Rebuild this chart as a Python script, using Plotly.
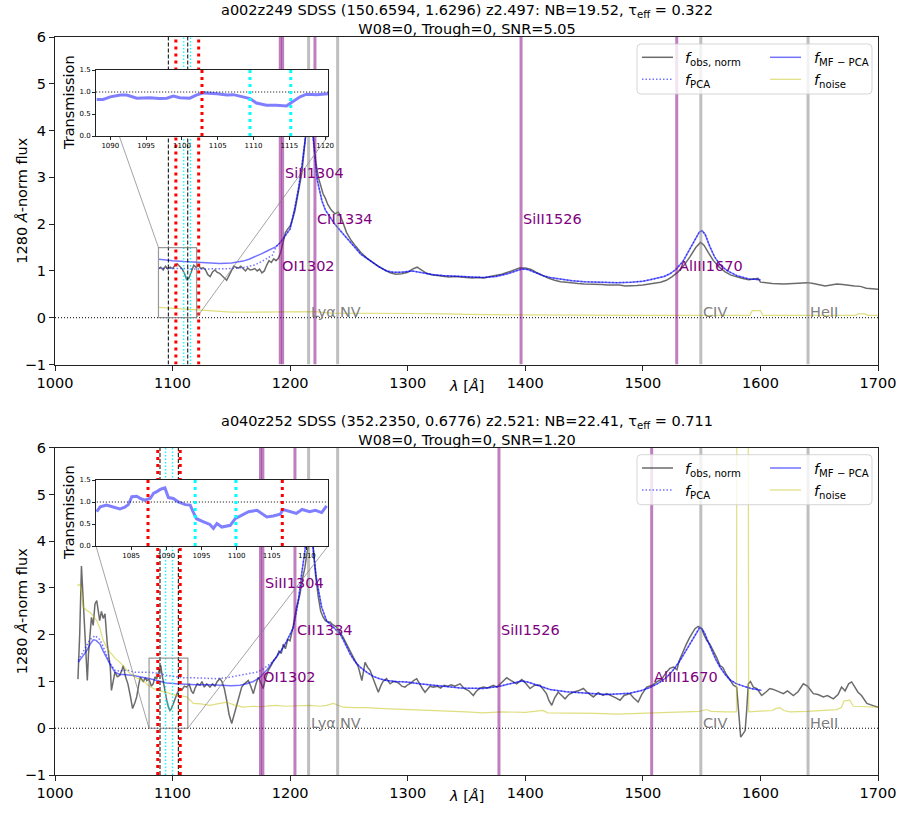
import plotly.graph_objects as go

# ------------------------------------------------------------------
# Quasar a002z249  (top panel)
# ------------------------------------------------------------------
a002_obs_wave = [1088.5, 1090, 1092, 1094, 1096, 1098, 1100, 1102, 1104, 1106, 1108, 1110, 1112, 1114, 1116,
                 1118, 1120, 1122, 1124, 1126, 1128, 1130, 1132, 1134, 1136, 1138, 1140, 1142, 1144, 1146,
                 1148, 1150, 1152, 1154, 1156, 1158, 1160, 1162, 1164, 1166, 1168, 1170, 1172, 1174, 1176,
                 1178, 1180, 1182, 1184, 1186, 1188, 1190, 1192, 1194, 1196, 1198, 1200, 1202, 1204, 1206,
                 1208, 1210, 1212, 1214, 1216, 1218, 1220, 1222, 1224, 1226, 1228, 1230, 1232, 1235, 1238,
                 1241, 1244, 1248, 1252, 1256, 1260, 1265, 1270, 1275, 1280, 1285, 1290, 1295, 1300, 1304,
                 1308, 1312, 1316, 1320, 1325, 1330, 1335, 1340, 1345, 1350, 1355, 1360, 1365, 1370, 1375,
                 1380, 1385, 1390, 1395, 1400, 1405, 1410, 1415, 1420, 1425, 1430, 1435, 1440, 1445, 1450,
                 1455, 1460, 1465, 1470, 1475, 1480, 1485, 1490, 1495, 1500, 1505, 1510, 1515, 1520, 1525,
                 1530, 1535, 1540, 1545, 1549, 1552, 1556, 1560, 1565, 1570, 1575, 1580, 1585, 1590, 1595,
                 1598, 1600, 1605, 1610, 1620, 1630, 1640, 1645, 1650, 1655, 1660, 1665, 1670, 1675, 1680,
                 1685, 1690, 1695, 1700]
a002_obs_flux = [1.05, 1.08, 1.02, 1.10, 1.04, 1.08, 1.05, 1.12, 1.15, 1.10, 1.05, 0.95, 0.82, 0.85, 1.00,
                 1.12, 1.08, 1.12, 1.05, 1.07, 1.02, 0.92, 0.88, 0.98, 1.02, 0.97, 0.95, 0.90, 0.86, 0.80,
                 0.90, 1.02, 1.10, 1.08, 1.06, 1.10, 1.04, 1.00, 1.06, 1.02, 1.03, 1.05, 1.00, 1.04, 0.96,
                 1.00, 1.12, 1.22, 1.18, 1.26, 1.22, 1.27, 1.40, 1.62, 1.82, 1.90, 1.96, 2.10, 2.28, 2.55,
                 2.80, 3.10, 3.60, 4.10, 4.55, 4.30, 3.80, 3.30, 3.00, 2.80, 2.65, 2.55, 2.42, 2.30, 2.22,
                 2.26, 2.10, 1.82, 1.65, 1.52, 1.40, 1.28, 1.18, 1.10, 1.03, 0.96, 0.93, 0.94, 0.97, 1.04,
                 1.08, 1.02, 0.95, 0.92, 0.90, 0.88, 0.87, 0.88, 0.87, 0.86, 0.85, 0.86, 0.85, 0.88, 0.90,
                 0.93, 0.97, 1.02, 1.06, 1.06, 1.03, 0.96, 0.90, 0.84, 0.80, 0.77, 0.76, 0.74, 0.73, 0.72,
                 0.72, 0.71, 0.71, 0.70, 0.70, 0.70, 0.68, 0.68, 0.69, 0.70, 0.72, 0.74, 0.76, 0.80, 0.88,
                 0.98, 1.12, 1.30, 1.50, 1.61, 1.55, 1.38, 1.22, 1.08, 0.98, 0.91, 0.87, 0.84, 0.81, 0.83,
                 0.84, 0.76, 0.74, 0.73, 0.72, 0.73, 0.75, 0.73, 0.70, 0.68, 0.70, 0.72, 0.71, 0.69, 0.68,
                 0.67, 0.63, 0.62, 0.61]

a002_pca_forest_wave = [1088.5, 1100, 1110, 1120, 1130, 1140, 1150, 1160, 1170, 1175, 1180, 1185]
a002_pca_forest_flux = [1.06, 1.06, 1.05, 1.04, 1.04, 1.04, 1.05, 1.07, 1.13, 1.19, 1.26, 1.34]
a002_mf_forest_wave = [1088.5, 1095, 1100, 1110, 1120, 1130, 1140, 1150, 1160, 1165, 1170, 1175, 1180, 1185]
a002_mf_forest_flux = [1.25, 1.23, 1.22, 1.20, 1.19, 1.17, 1.16, 1.17, 1.21, 1.25, 1.30, 1.36, 1.42, 1.49]
a002_fit_wave = [1188, 1191, 1195, 1200, 1204, 1207, 1210, 1213, 1215.5, 1217, 1219, 1221, 1223, 1227, 1230,
                 1234, 1238, 1242, 1248, 1254, 1260, 1268, 1276, 1282, 1288, 1294, 1299, 1304, 1310, 1316,
                 1322, 1330, 1340, 1350, 1364, 1375, 1385, 1392, 1397, 1402, 1408, 1415, 1421, 1430, 1440,
                 1450, 1465, 1478, 1490, 1500, 1506, 1512, 1518, 1523, 1528, 1534, 1539, 1544, 1548, 1550.5,
                 1553, 1557, 1561, 1566, 1572, 1580, 1590, 1600]
a002_fit_flux = [1.52, 1.59, 1.72, 1.90, 2.35, 2.75, 3.25, 3.80, 4.35, 4.30, 4.00, 3.45, 2.95, 2.50, 2.30,
                 2.15, 2.00, 1.88, 1.70, 1.52, 1.36, 1.22, 1.08, 1.00, 0.97, 0.97, 0.99, 1.00, 0.97, 0.94,
                 0.92, 0.90, 0.89, 0.87, 0.86, 0.88, 0.94, 1.00, 1.04, 1.03, 0.97, 0.90, 0.86, 0.82, 0.79,
                 0.77, 0.76, 0.75, 0.76, 0.78, 0.81, 0.84, 0.88, 0.94, 1.03, 1.20, 1.42, 1.66, 1.83, 1.86,
                 1.78, 1.52, 1.30, 1.12, 1.00, 0.90, 0.83, 0.81]

a002_noise_wave = [1088.5, 1100, 1110, 1123, 1135, 1150, 1170, 1190, 1208, 1220, 1236, 1260, 1300, 1333, 1350,
                   1400, 1450, 1500, 1550, 1591, 1593, 1600, 1602, 1650, 1681, 1683, 1689, 1691, 1700]
a002_noise_flux = [0.22, 0.20, 0.18, 0.17, 0.14, 0.12, 0.12, 0.12, 0.13, 0.13, 0.10, 0.10, 0.09, 0.08, 0.07,
                   0.06, 0.05, 0.05, 0.05, 0.05, 0.15, 0.15, 0.05, 0.05, 0.05, 0.08, 0.08, 0.05, 0.05]

a002_trans_wave = [1088.1, 1089.0, 1090.0, 1091.4, 1092.3, 1093.7, 1095.5, 1096.9, 1097.9, 1098.8, 1099.7,
                   1101.1, 1102.0, 1103.0, 1104.9, 1106.3, 1107.2, 1108.6, 1109.5, 1110.4, 1111.8, 1113.2,
                   1114.6, 1115.1, 1116.5, 1117.4, 1118.8, 1120.4]
a002_trans_vals = [0.83, 0.83, 0.89, 0.93, 0.93, 0.86, 0.87, 0.85, 0.86, 0.91, 0.87,
                   0.86, 0.93, 0.98, 0.96, 0.93, 0.94, 0.89, 0.85, 0.75, 0.70, 0.70,
                   0.68, 0.74, 0.89, 0.95, 0.94, 0.96]

a002_red = [1102.8, 1122.2]
a002_cyan = [1109.5, 1115.2]
a002_black = [1096.4, 1112.9]
a002_metal_lines = [1191.6, 1193.6, 1221.1, 1396.4, 1528.8]
a002_metal_labels = [("OI1302", 1191.6, 1.1), ("SiII1304", 1193.6, 3.1), ("CII1334", 1221.1, 2.1),
                     ("SiII1526", 1396.4, 2.1), ("AlIII1670", 1528.8, 1.1)]
a002_inset_range = [1088.0, 1120.4]
a002_inset_ticks = [1090, 1095, 1100, 1105, 1110, 1115, 1120]
a002_title = ("a002z249 SDSS (150.6594, 1.6296) z2.497: NB=19.52, τ<sub>eff</sub> = 0.322"
              "<br>W08=0, Trough=0, SNR=5.05")

# ------------------------------------------------------------------
# Quasar a040z252  (bottom panel)
# ------------------------------------------------------------------
a040_obs_wave = [1019.5, 1021, 1022.5, 1023.5, 1024.5, 1025.5, 1026.5, 1027.5, 1028.5, 1030, 1031, 1032.5,
                 1034, 1035.5, 1037, 1038, 1039.5, 1041, 1042.5, 1043.5, 1044.5, 1046, 1047, 1048, 1049.5,
                 1051, 1053, 1055, 1057, 1058, 1060, 1062, 1064, 1066, 1068, 1069.5, 1071, 1072.5, 1075,
                 1077, 1078, 1080, 1082, 1083.5, 1085, 1086.5, 1088, 1090, 1091, 1092, 1093.5, 1095, 1096.5,
                 1097.8, 1099, 1100.6, 1102, 1104, 1106.3, 1108, 1110, 1112, 1114, 1116, 1117.6, 1119, 1121,
                 1123.3, 1125, 1127, 1129, 1131.8, 1134, 1136, 1138, 1140.3, 1142, 1144, 1146, 1148, 1150.3,
                 1152, 1154.5, 1156.5, 1158.8, 1161, 1164.4, 1166.5, 1168.7, 1171, 1173, 1175, 1177, 1179,
                 1181.4, 1184, 1186, 1188.5, 1190.5, 1192.5, 1194.2, 1196, 1198, 1199.9, 1201.5, 1202.7,
                 1205, 1208.4, 1210.5, 1212.6, 1214, 1215.5, 1216.5, 1218, 1219.7, 1221.5, 1224, 1226,
                 1228.2, 1230, 1232, 1234, 1236, 1239.6, 1242.4, 1245, 1248, 1251, 1254, 1256, 1258, 1261,
                 1263.7, 1266, 1268, 1270, 1272, 1275, 1277, 1279, 1282, 1285, 1288, 1290.6, 1293, 1295,
                 1297.7, 1300, 1303, 1305, 1307.6, 1310, 1312.5, 1314.7, 1317, 1319, 1321.8, 1325, 1328,
                 1331, 1334, 1337, 1340, 1344.5, 1348, 1352, 1355.8, 1358, 1361, 1364.3, 1368, 1372.8, 1376,
                 1380, 1384.2, 1388, 1392.7, 1397, 1400, 1404, 1408, 1412.5, 1415, 1418, 1420, 1422.5, 1425,
                 1428, 1431, 1433.8, 1437, 1440.8, 1445, 1449.4, 1453, 1457.9, 1462, 1466, 1469.3, 1473,
                 1477, 1480.6, 1484, 1489, 1492, 1496, 1499, 1503.2, 1508, 1511.8, 1516, 1520, 1523, 1525.9,
                 1529, 1531, 1534.4, 1537, 1540, 1542, 1544.3, 1547, 1550, 1552, 1554.3, 1557, 1560, 1563,
                 1565.6, 1568, 1571, 1574, 1577, 1579.8, 1581.5, 1583.2, 1585.5, 1587, 1588.3, 1589.7,
                 1591.5, 1594, 1597, 1601, 1605, 1608, 1611, 1615, 1619.5, 1623, 1628, 1632, 1636.5, 1640,
                 1645, 1649, 1653.5, 1657, 1662, 1666, 1669, 1672, 1675, 1677.6, 1680, 1683, 1686, 1690.5,
                 1694, 1697, 1700]
a040_obs_flux = [1.05, 2.00, 3.47, 3.00, 2.40, 2.02, 1.50, 1.02, 1.60, 2.10, 2.37, 2.20,
                 2.66, 2.73, 2.40, 2.30, 2.50, 2.35, 2.45, 2.10, 1.80, 1.50, 1.31, 0.81, 1.05,
                 1.20, 1.10, 1.13, 1.25, 1.34, 1.10, 0.95, 0.70, 0.42, 0.55, 0.67, 0.90, 1.09, 1.00,
                 1.08, 1.02, 1.05, 0.90, 0.95, 1.10, 1.05, 1.20, 1.34, 1.15, 0.99, 0.85, 0.60, 0.45,
                 0.38, 0.42, 0.53, 0.62, 0.75, 0.85, 0.82, 0.90, 0.88, 0.95, 0.80, 0.74, 0.85, 0.95,
                 0.92, 1.00, 0.88, 0.95, 0.88, 0.95, 0.90, 1.00, 1.06, 1.00, 0.85, 0.60, 0.30, 0.10,
                 0.25, 0.45, 0.65, 0.88, 0.95, 1.02, 0.90, 0.74, 0.95, 1.09, 0.98, 0.85, 1.05,
                 1.24, 1.35, 1.45, 1.52, 1.65, 1.60, 1.80, 1.70, 1.90, 1.87, 2.05, 2.20,
                 2.55, 2.87, 3.20, 3.44, 3.70, 3.90, 4.20, 4.30, 3.87, 3.30, 2.80, 2.50,
                 2.37, 2.30, 2.27, 2.27, 2.22, 2.16, 2.05, 1.95, 1.80, 1.66, 1.50, 1.40, 1.31, 1.02,
                 1.41, 1.30, 1.24, 1.10, 0.95, 0.77, 0.90, 1.00, 1.06, 0.95, 1.00, 0.99, 0.95, 0.90,
                 0.88, 0.93, 0.97, 1.02, 1.06, 0.95, 0.85, 0.77, 0.85, 0.90, 0.88, 0.90, 0.86,
                 0.92, 0.90, 0.93, 0.90, 0.95, 0.85, 0.80, 0.70, 0.78, 0.85, 0.88, 0.86, 0.92, 0.88,
                 0.98, 1.08, 1.02, 0.95, 1.04, 0.97, 0.85, 0.92, 0.92, 0.84, 0.74, 0.60, 0.49, 0.65,
                 0.77, 0.70, 0.63, 0.72, 0.77, 0.80, 0.85, 0.76, 0.67, 0.76, 0.70, 0.74, 0.70,
                 0.65, 0.60, 0.70, 0.74, 0.65, 0.56, 0.72, 0.88, 0.92, 0.99, 1.05, 1.20, 1.28, 1.31,
                 1.25, 1.45, 1.66, 1.80, 1.95, 2.05, 2.13, 2.18, 2.13, 2.00, 1.88, 1.80, 1.66, 1.50,
                 1.34, 1.30, 1.15, 1.02, 0.92, 0.88, 0.24, -0.19, -0.11, -0.05, 0.38, 0.95,
                 1.00, 0.88, 0.85, 0.70, 0.78, 0.85, 0.83, 0.78, 0.74, 0.80, 0.70, 0.78, 0.95, 0.90,
                 0.74, 0.72, 0.67, 0.70, 0.63, 0.72, 0.88, 0.80, 0.95, 0.99, 0.90, 0.77, 0.70, 0.53,
                 0.50, 0.47, 0.45]

a040_pca_forest_wave = [1019.8, 1024, 1027, 1030, 1034, 1038, 1041, 1044, 1047, 1051, 1055, 1058, 1062,
                        1066.6, 1072, 1080.8, 1089, 1095, 1103, 1109, 1117.6, 1130, 1137.5, 1146, 1157,
                        1163, 1171.5, 1176, 1180, 1185.7]
a040_pca_forest_flux = [1.45, 1.62, 1.77, 1.90, 1.98, 1.90, 1.75, 1.55, 1.38, 1.24, 1.22, 1.24, 1.24,
                        1.20, 1.20, 1.20, 1.17, 1.13, 1.10, 1.08, 1.08, 1.06, 1.06, 1.08, 1.13,
                        1.17, 1.20, 1.25, 1.32, 1.43]
a040_mf_forest_wave = [1019.8, 1024, 1027, 1030, 1032.6, 1035, 1038.3, 1041, 1044, 1047, 1051, 1055, 1058,
                       1062, 1066.6, 1072, 1077, 1080.8, 1085, 1089.3, 1095, 1103.5, 1109, 1120, 1131.8,
                       1140, 1150, 1157.4, 1163, 1168.7, 1174, 1180, 1185.7]
a040_mf_forest_flux = [1.41, 1.55, 1.66, 1.80, 1.89, 1.88, 1.80, 1.65, 1.49, 1.36, 1.20, 1.15, 1.15,
                       1.14, 1.13, 1.10, 1.08, 1.06, 1.03, 1.00, 0.97, 0.95, 0.94, 0.93, 0.93,
                       0.92, 0.91, 0.92, 0.95, 1.00, 1.08, 1.24, 1.43]
a040_fit_wave = [1188, 1191, 1194.2, 1197, 1200, 1202.7, 1205, 1207, 1209.8, 1212.6, 1214.5, 1216, 1217.5,
                 1219.7, 1222.6, 1226.8, 1231, 1235, 1239.6, 1242.4, 1246, 1251, 1255, 1259.4, 1265, 1270.7,
                 1276, 1282, 1290, 1299, 1310, 1321.8, 1333, 1345, 1364, 1372, 1378.5, 1385, 1391, 1397,
                 1402, 1407, 1414, 1421, 1435, 1449.4, 1469, 1489, 1498, 1506, 1513, 1520.3, 1526, 1531.7,
                 1536, 1540, 1544, 1548.5, 1550.5, 1552.8, 1555.5, 1558.5, 1562, 1565.6, 1570, 1574, 1579,
                 1585.5, 1592, 1601]
a040_fit_flux = [1.52, 1.62, 1.73, 1.86, 2.02, 2.15, 2.45, 2.73, 3.30, 3.80, 4.30, 4.60, 4.50,
                 3.80, 3.16, 2.59, 2.30, 2.20, 2.09, 2.02, 1.85, 1.59, 1.43, 1.31, 1.20, 1.11,
                 1.06, 1.02, 1.00, 0.99, 0.95, 0.92, 0.88, 0.86, 0.85, 0.87, 0.90, 0.94, 0.98, 1.01,
                 0.99, 0.95, 0.88, 0.83, 0.78, 0.75, 0.72, 0.75, 0.80, 0.87, 0.96, 1.09, 1.25, 1.45,
                 1.63, 1.80, 1.98, 2.16, 2.12, 2.02, 1.85, 1.66, 1.47, 1.31, 1.15, 1.04, 0.96,
                 0.90, 0.85, 0.81]

a040_noise_wave = [1019, 1021.3, 1022.5, 1024, 1027, 1029.8, 1032.5, 1035.5, 1038, 1041, 1044, 1048, 1051,
                   1055.3, 1059, 1063.8, 1069, 1075, 1079, 1083.6, 1089, 1095, 1100, 1106, 1112, 1115,
                   1117.6, 1124, 1131.8, 1138, 1146, 1152, 1160, 1168, 1175, 1182, 1188.5, 1196, 1203,
                   1210, 1216.9, 1225, 1231, 1236.7, 1240, 1245.2, 1255, 1265, 1280, 1300, 1320, 1333,
                   1350, 1364, 1380, 1400, 1412, 1415, 1419, 1440, 1460, 1478, 1500, 1520, 1534, 1548,
                   1554, 1558, 1570, 1579.6, 1580.4, 1589.2, 1590, 1600, 1610, 1613, 1616.6, 1620, 1625,
                   1640, 1655, 1665, 1669, 1671, 1676, 1679, 1690, 1700]
a040_noise_flux = [3.05, 3.08, 2.90, 2.59, 2.52, 2.48, 2.40, 2.30, 2.15, 1.88, 1.72, 1.59, 1.50,
                   1.41, 1.30, 1.17, 1.08, 1.02, 0.92, 0.85, 0.80, 0.77, 0.72, 0.70, 0.67, 0.60,
                   0.53, 0.52, 0.49, 0.52, 0.56, 0.50, 0.45, 0.47, 0.46, 0.48, 0.49, 0.47, 0.48,
                   0.49, 0.49, 0.47, 0.49, 0.53, 0.50, 0.45, 0.44, 0.44, 0.42, 0.40, 0.39, 0.38,
                   0.35, 0.33, 0.35, 0.34, 0.36, 0.38, 0.33, 0.33, 0.32, 0.30, 0.32, 0.34, 0.35, 0.36,
                   0.40, 0.36, 0.35, 0.35, 15.0, 15.0, 0.35, 0.36, 0.38, 0.42, 0.44, 0.38, 0.35,
                   0.36, 0.38, 0.40, 0.45, 0.58, 0.60, 0.47, 0.46, 0.45]

a040_trans_wave = [1080.1, 1080.6, 1081.5, 1082.5, 1083.4, 1084.1, 1084.6, 1085.1, 1085.8, 1086.3, 1086.9,
                   1087.7, 1088.2, 1088.6, 1089.2, 1089.8, 1090.3, 1091.0, 1091.7, 1092.7, 1093.4, 1093.8,
                   1094.3, 1095.3, 1096.2, 1096.7, 1097.2, 1097.9, 1099.1, 1099.8, 1100.5, 1101.7, 1102.9,
                   1103.6, 1104.3, 1105.2, 1106.2, 1106.6, 1107.6, 1108.5, 1109.3, 1110.4, 1111.2, 1112.1,
                   1112.8]
a040_trans_vals = [0.78, 0.89, 0.93, 0.89, 0.84, 0.88, 0.94, 1.12, 1.13, 1.08, 1.04,
                   1.08, 1.20, 1.23, 1.29, 1.32, 1.10, 1.08, 1.00, 0.94, 0.93, 0.78,
                   0.62, 0.55, 0.49, 0.40, 0.51, 0.43, 0.47, 0.62, 0.68, 0.78, 0.81,
                   0.74, 0.66, 0.68, 0.72, 0.83, 0.78, 0.74, 0.83, 0.78, 0.81, 0.76,
                   0.91]

a040_red = [1087.4, 1106.5]
a040_cyan = [1094.1, 1099.9]
a040_black = [1089.3, 1104.9]
a040_metal_lines = [1174.8, 1176.8, 1204.1, 1377.6, 1507.5]
a040_metal_labels = [("OI1302", 1175.6, 1.1), ("SiII1304", 1176.8, 3.1), ("CII1334", 1204.1, 2.1),
                     ("SiII1526", 1377.6, 2.1), ("AlIII1670", 1507.5, 1.1)]
a040_inset_range = [1080.0, 1113.0]
a040_inset_ticks = [1085, 1090, 1095, 1100, 1105, 1110]
a040_title = ("a040z252 SDSS (352.2350, 0.6776) z2.521: NB=22.41, τ<sub>eff</sub> = 0.711"
              "<br>W08=0, Trough=0, SNR=1.20")

# emission lines common to both panels
emission_waves = [1215.7, 1240.4, 1549.3, 1640.5]
emission_labels = [("Lyα", 1215.7), ("NV", 1240.4), ("CIV", 1549.3), ("HeII", 1640.5)]

# ------------------------------------------------------------------
# page geometry (pixels)
# ------------------------------------------------------------------
W, H = 901, 820
FONT = "DejaVu Sans"
MAIN_X = (55, 878)
XR = (1000, 1700)
YR = (-1, 6)
INSET_X = (96, 328)


def px(x):
    return x / W


def py(y):
    return 1 - y / H


panels = [
    dict(obs_w=a002_obs_wave, obs_f=a002_obs_flux,
         pca_w=a002_pca_forest_wave + a002_fit_wave, pca_f=a002_pca_forest_flux + a002_fit_flux,
         mf_w=a002_mf_forest_wave + a002_fit_wave, mf_f=a002_mf_forest_flux + a002_fit_flux,
         noise_w=a002_noise_wave, noise_f=a002_noise_flux,
         tr_w=a002_trans_wave, tr_v=a002_trans_vals,
         red=a002_red, cyan=a002_cyan, black=a002_black,
         metals=a002_metal_lines, metal_labels=a002_metal_labels,
         inset_range=a002_inset_range, inset_ticks=a002_inset_ticks, title=a002_title,
         ypix=(37, 364.5), inset_ypix=(70, 136), legend_dy=0,
         connectors=[("left", 1.5, INSET_X[0], "top"), ("right", 0.0, INSET_X[1], "bottom")]),
    dict(obs_w=a040_obs_wave, obs_f=a040_obs_flux,
         pca_w=a040_pca_forest_wave + a040_fit_wave, pca_f=a040_pca_forest_flux + a040_fit_flux,
         mf_w=a040_mf_forest_wave + a040_fit_wave, mf_f=a040_mf_forest_flux + a040_fit_flux,
         noise_w=a040_noise_wave, noise_f=a040_noise_flux,
         tr_w=a040_trans_wave, tr_v=a040_trans_vals,
         red=a040_red, cyan=a040_cyan, black=a040_black,
         metals=a040_metal_lines, metal_labels=a040_metal_labels,
         inset_range=a040_inset_range, inset_ticks=a040_inset_ticks, title=a040_title,
         ypix=(447.7, 775), inset_ypix=(480, 546), legend_dy=410.7,
         connectors=[("left", 0.0, INSET_X[0], "bottom"), ("right", 0.0, INSET_X[1], "bottom")]),
]

GREY_OBS = "rgba(0,0,0,0.58)"
BLUE_MF = "rgba(0,0,255,0.55)"
BLUE_PCA = "rgba(0,0,255,0.55)"
NOISE = "rgba(191,191,0,0.5)"
PURPLE = "rgba(128,0,128,0.5)"
GREY_LINE = "rgba(128,128,128,0.5)"


def vlines(xs, y0, y1):
    xx, yy = [], []
    for x in xs:
        xx += [x, x, None]
        yy += [y0, y1, None]
    return xx, yy


fig = go.Figure()
annotations = []
shapes = []

for i, p in enumerate(panels):
    main_x = "x" if i == 0 else "x2"
    main_y = "y" if i == 0 else "y2"
    ins_x = "x3" if i == 0 else "x4"
    ins_y = "y3" if i == 0 else "y4"

    def L(**kw):
        kw.setdefault("mode", "lines")
        kw.setdefault("showlegend", False)
        kw.setdefault("hoverinfo", "skip")
        fig.add_trace(go.Scatter(**kw))

    # spectra
    L(x=p["obs_w"], y=p["obs_f"], xaxis=main_x, yaxis=main_y, line=dict(color=GREY_OBS, width=1.5))
    # stretch of the spectrum inside the cyan window
    cw = [w for w in p["obs_w"] if p["cyan"][0] <= w <= p["cyan"][1]]
    cf = [f for w, f in zip(p["obs_w"], p["obs_f"]) if p["cyan"][0] <= w <= p["cyan"][1]]
    L(x=cw, y=cf, xaxis=main_x, yaxis=main_y, line=dict(color="rgba(0,220,220,0.45)", width=1.5))
    L(x=p["pca_w"], y=p["pca_f"], xaxis=main_x, yaxis=main_y,
      line=dict(color=BLUE_PCA, width=1.5, dash="1.5px,2px"))
    L(x=p["mf_w"], y=p["mf_f"], xaxis=main_x, yaxis=main_y, line=dict(color=BLUE_MF, width=1.5))
    L(x=p["noise_w"], y=p["noise_f"], xaxis=main_x, yaxis=main_y, line=dict(color=NOISE, width=1.2))

    # zero level
    L(x=list(XR), y=[0, 0], xaxis=main_x, yaxis=main_y, line=dict(color="black", width=1, dash="1px,2px"))

    # line markers
    vx, vy = vlines(p["metals"], YR[0], YR[1])
    L(x=vx, y=vy, xaxis=main_x, yaxis=main_y, line=dict(color=PURPLE, width=3))
    vx, vy = vlines(emission_waves, YR[0], YR[1])
    L(x=vx, y=vy, xaxis=main_x, yaxis=main_y, line=dict(color=GREY_LINE, width=3))
    vx, vy = vlines(p["black"], YR[0], YR[1])
    L(x=vx, y=vy, xaxis=main_x, yaxis=main_y, line=dict(color="black", width=1, dash="4px,2px"))
    vx, vy = vlines(p["red"], YR[0], YR[1])
    L(x=vx, y=vy, xaxis=main_x, yaxis=main_y, line=dict(color="red", width=3, dash="3px,4px"))
    vx, vy = vlines(p["cyan"], YR[0], YR[1])
    L(x=vx, y=vy, xaxis=main_x, yaxis=main_y, line=dict(color="cyan", width=1.3, dash="1.5px,2px"))

    # zoom box and connector lines
    r0, r1 = p["inset_range"]
    L(x=[r0, r1, r1, r0, r0], y=[0, 0, 1.5, 1.5, 0], xaxis=main_x, yaxis=main_y,
      line=dict(color="rgba(128,128,128,0.8)", width=1.2))
    ytop_px, ybot_px = p["ypix"]
    iy0, iy1 = p["inset_ypix"]

    def to_data(xp, yp):
        lam = XR[0] + (xp - MAIN_X[0]) / (MAIN_X[1] - MAIN_X[0]) * (XR[1] - XR[0])
        val = YR[0] + (ybot_px - yp) / (ybot_px - ytop_px) * (YR[1] - YR[0])
        return lam, val

    for side, yval, ixp, iyside in p["connectors"]:
        rx = r0 if side == "left" else r1
        ix, iy = to_data(ixp, iy0 if iyside == "top" else iy1)
        L(x=[rx, ix], y=[yval, iy], xaxis=main_x, yaxis=main_y,
          line=dict(color="rgba(128,128,128,0.8)", width=0.9))

    # inset: transmission
    L(x=p["tr_w"], y=p["tr_v"], xaxis=ins_x, yaxis=ins_y, line=dict(color="rgba(0,0,255,0.5)", width=3))
    L(x=[r0 - 5, r1 + 5], y=[1, 1], xaxis=ins_x, yaxis=ins_y, line=dict(color="black", width=1, dash="1px,2px"))
    vx, vy = vlines(p["red"], 0, 1.5)
    L(x=vx, y=vy, xaxis=ins_x, yaxis=ins_y, line=dict(color="red", width=3, dash="3px,4px"))
    vx, vy = vlines(p["cyan"], 0, 1.5)
    L(x=vx, y=vy, xaxis=ins_x, yaxis=ins_y, line=dict(color="cyan", width=3, dash="3px,4px"))

    # axes
    main_dom_y = [py(ybot_px), py(ytop_px)]
    ax_common = dict(showline=True, mirror=True, linecolor="#222", linewidth=1, ticks="outside",
                     ticklen=5, tickwidth=1, tickcolor="#222", showgrid=False, zeroline=False,
                     automargin=False, tickfont=dict(family=FONT, size=14.5, color="black"))
    xk = "xaxis" if i == 0 else "xaxis2"
    yk = "yaxis" if i == 0 else "yaxis2"
    fig.layout[xk] = dict(domain=[px(MAIN_X[0]), px(MAIN_X[1])], range=list(XR), anchor=main_y,
                          tickvals=[1000, 1100, 1200, 1300, 1400, 1500, 1600, 1700], **ax_common)
    fig.layout[yk] = dict(domain=main_dom_y, range=list(YR), anchor=main_x,
                          tickvals=[-1, 0, 1, 2, 3, 4, 5, 6], **ax_common)
    ins_common = dict(showline=True, mirror=True, linecolor="#222", linewidth=1, ticks="outside",
                      ticklen=3, tickwidth=0.8, tickcolor="#222", showgrid=False, zeroline=False,
                      automargin=False, tickfont=dict(family=FONT, size=7, color="black"))
    xik = "xaxis3" if i == 0 else "xaxis4"
    yik = "yaxis3" if i == 0 else "yaxis4"
    fig.layout[xik] = dict(domain=[px(INSET_X[0]), px(INSET_X[1])], range=[r0, r1], anchor=ins_y,
                           tickvals=p["inset_ticks"], **ins_common)
    fig.layout[yik] = dict(domain=[py(iy1), py(iy0)], range=[0, 1.5], anchor=ins_x,
                           tickvals=[0, 0.5, 1.0, 1.5], ticktext=["0.0", "0.5", "1.0", "1.5"], **ins_common)

    # text
    annotations.append(dict(text=p["title"], x=px((MAIN_X[0] + MAIN_X[1]) / 2), y=py(ytop_px - 17.5),
                            xref="paper", yref="paper", showarrow=False, xanchor="center", yanchor="middle",
                            font=dict(family=FONT, size=14.5, color="black")))
    annotations.append(dict(text="1280 <i>Å</i>-norm flux", x=px(22), y=py((ytop_px + ybot_px) / 2),
                            xref="paper", yref="paper", showarrow=False, textangle=-90,
                            xanchor="center", yanchor="middle", font=dict(family=FONT, size=14.5, color="black")))
    annotations.append(dict(text="<i>λ</i> [<i>Å</i>]", x=px((MAIN_X[0] + MAIN_X[1]) / 2), y=py(ybot_px + 21),
                            xref="paper", yref="paper", showarrow=False, xanchor="center", yanchor="middle",
                            font=dict(family=FONT, size=14.5, color="black")))
    annotations.append(dict(text="Transmission", x=px(69), y=py((iy0 + iy1) / 2),
                            xref="paper", yref="paper", showarrow=False, textangle=-90,
                            xanchor="center", yanchor="middle", font=dict(family=FONT, size=14.5, color="black")))
    for name, lam, yv in p["metal_labels"]:
        annotations.append(dict(text=name, x=lam, y=yv, xref=main_x, yref=main_y, showarrow=False,
                                xanchor="left", yanchor="middle",
                                font=dict(family=FONT, size=14.5, color="purple")))
    for name, lam in emission_labels:
        annotations.append(dict(text=name, x=lam, y=0.12, xref=main_x, yref=main_y, showarrow=False,
                                xanchor="left", yanchor="middle",
                                font=dict(family=FONT, size=14.5, color="grey")))

    # legend
    dy = p["legend_dy"]
    bx0, bx1, by0, by1, rr = 637, 872, 44 + dy, 94 + dy, 4
    path = (f"M {px(bx0 + rr)},{py(by0)} L {px(bx1 - rr)},{py(by0)} "
            f"Q {px(bx1)},{py(by0)} {px(bx1)},{py(by0 + rr)} L {px(bx1)},{py(by1 - rr)} "
            f"Q {px(bx1)},{py(by1)} {px(bx1 - rr)},{py(by1)} L {px(bx0 + rr)},{py(by1)} "
            f"Q {px(bx0)},{py(by1)} {px(bx0)},{py(by1 - rr)} L {px(bx0)},{py(by0 + rr)} "
            f"Q {px(bx0)},{py(by0)} {px(bx0 + rr)},{py(by0)} Z")
    shapes.append(dict(type="path", path=path, xref="paper", yref="paper", layer="above",
                       fillcolor="rgba(255,255,255,0.8)", line=dict(color="rgba(204,204,204,0.8)", width=1)))
    entries = [
        (642, 673, 57.3, 683, "<i>f</i><sub>obs, norm</sub>", dict(color=GREY_OBS, width=1.5)),
        (642, 673, 79.3, 683, "<i>f</i><sub>PCA</sub>", dict(color=BLUE_PCA, width=1.5, dash="1.5px,2px")),
        (770, 801, 57.3, 812, "<i>f</i><sub>MF − PCA</sub>", dict(color=BLUE_MF, width=1.5)),
        (770, 801, 79.3, 812, "<i>f</i><sub>noise</sub>", dict(color=NOISE, width=1.2)),
    ]
    for lx0, lx1, ly, tx, txt, ln in entries:
        shapes.append(dict(type="line", xref="paper", yref="paper", layer="above",
                           x0=px(lx0), x1=px(lx1), y0=py(ly + dy), y1=py(ly + dy), line=ln))
        annotations.append(dict(text=txt, x=px(tx), y=py(ly + dy + 2), xref="paper", yref="paper",
                                showarrow=False, xanchor="left", yanchor="middle",
                                font=dict(family=FONT, size=14.5, color="black")))

fig.update_layout(width=W, height=H, margin=dict(l=0, r=0, t=0, b=0),
                  paper_bgcolor="white", plot_bgcolor="white", showlegend=False,
                  annotations=annotations, shapes=shapes, font=dict(family=FONT))

fig.write_html("out.html")
